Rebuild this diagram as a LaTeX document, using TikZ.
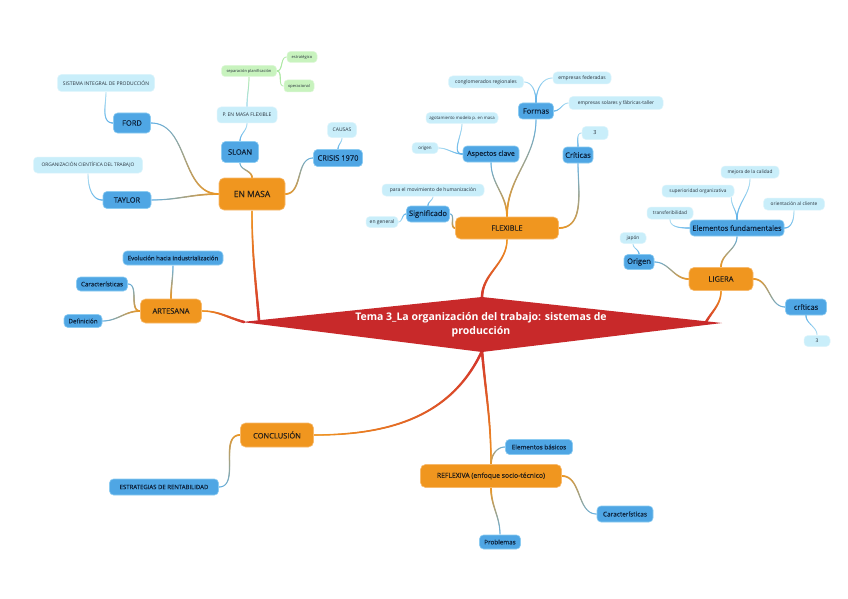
\documentclass[tikz,border=0pt]{standalone}
\usepackage{fontspec}
\setmainfont{Open Sans}
\newfontfamily\semib[FakeBold=0.6]{Open Sans}
\usetikzlibrary{decorations.markings}
\definecolor{cOr}{RGB}{240,150,31}
\definecolor{cOrB}{RGB}{247,186,110}
\definecolor{cBl}{RGB}{79,166,228}
\definecolor{cBlB}{RGB}{140,204,242}
\definecolor{cLb}{RGB}{201,238,250}
\definecolor{cLbB}{RGB}{222,245,252}
\definecolor{cGr}{RGB}{200,243,190}
\definecolor{cGrB}{RGB}{222,248,216}
\definecolor{cRed}{RGB}{200,41,42}
\definecolor{cRedL}{RGB}{212,52,44}
\definecolor{cOrL}{RGB}{240,150,31}
\definecolor{cBlL}{RGB}{90,175,232}
\definecolor{cLbL}{RGB}{168,221,243}
\definecolor{cGrL}{RGB}{170,232,160}
\definecolor{cTxt}{RGB}{40,32,24}
\definecolor{cNavy}{RGB}{14,36,62}
\definecolor{cLeafT}{RGB}{40,50,60}
\newcommand\fsz[1]{\fontsize{#1}{#1}\selectfont}
\pgfdeclarelayer{bg}
\pgfdeclarelayer{paper}
\pgfsetlayers{paper,bg,main}
\tikzset{
  grad/.style n args={4}{decorate, decoration={markings,
     mark=between positions 0 and 1 step 0.5pt with {%
       \pgfmathsetmacro\gfrac{\pgfkeysvalueof{/pgf/decoration/mark info/distance from start}/\pgfdecoratedpathlength}%
       \pgfmathtruncatemacro\gp{100*\gfrac}%
       \pgfmathsetmacro\gr{#3+(#4-#3)*\gfrac}%
       \fill[#2!\gp!#1] (0,0) circle (\gr pt);
     }}},
  g0/.style 2 args={grad={#1}{#2}{1.35}{0.75}},
  g1/.style 2 args={grad={#1}{#2}{0.95}{0.55}},
  g2/.style 2 args={grad={#1}{#2}{0.65}{0.45}},
  wh/.style 2 args={minimum width=#1pt, minimum height=#2pt},
  orng/.style={fill=cOr, draw=cOrB, line width=0.6pt, rounded corners=5pt, text=cTxt, inner sep=0pt, execute at begin node=\semib},
  blu/.style={fill=cBl, draw=cBlB, line width=0.6pt, rounded corners=4pt, text=cNavy, inner sep=0pt, execute at begin node=\semib},
  leaf/.style={fill=cLb, draw=cLbB, line width=0.5pt, rounded corners=4pt, text=cLeafT, inner sep=0pt, font=\fsz{5}},
  grn/.style={fill=cGr, draw=cGrB, line width=0.5pt, rounded corners=3.5pt, text=cLeafT, inner sep=0pt, font=\fsz{4}},
}
\begin{document}
\begin{tikzpicture}[x=1pt,y=1pt]
\begin{pgfonlayer}{paper}
\fill[white] (0,0) rectangle (848,-599);
\end{pgfonlayer}
\useasboundingbox (0,0) rectangle (848,-599);

% central diamond
\fill[cRed] (242,-322) -- (482,-297) -- (722,-323) -- (482,-352) -- cycle;
\node[font=\fontsize{10.5}{14}\selectfont\bfseries, text=white, align=center] (title) at (481,-325) {Tema 3\_La organización del trabajo: sistemas de\\producción};
\coordinate (dEM) at (259,-320);
\coordinate (dL) at (244,-322);
\coordinate (dT) at (482,-298);
\coordinate (dLG) at (706,-322);
\coordinate (dB) at (482,-351);

% orange
\node[orng, wh={66}{32}, font=\fsz{8.5}] (enmasa) at (252,-194) {EN MASA};
\node[orng, wh={103}{22}, font=\fsz{7.5}] (flexible) at (507,-228) {FLEXIBLE};
\node[orng, wh={64}{23}, font=\fsz{7.5}] (ligera) at (721,-279) {LIGERA};
\node[orng, wh={61}{24}, font=\fsz{7.5}] (artesana) at (171,-311) {ARTESANA};
\node[orng, wh={73}{24}, font=\fsz{7.5}] (conclusion) at (277,-435) {CONCLUSIÓN};
\node[orng, wh={141}{23}, font=\fsz{6.8}] (reflexiva) at (491,-476) {REFLEXIVA (enfoque socio-técnico)};

% blue
\node[blu, wh={37}{20}, font=\fsz{7.5}] (ford) at (132,-123) {FORD};
\node[blu, wh={48}{17}, font=\fsz{7.5}] (taylor) at (127,-200) {TAYLOR};
\node[blu, wh={37}{21}, font=\fsz{7.5}] (sloan) at (240,-152) {SLOAN};
\node[blu, wh={49}{17}, font=\fsz{7.5}] (crisis) at (338,-158) {CRISIS 1970};
\node[blu, wh={35}{16}, font=\fsz{7.5}] (formas) at (536,-111) {Formas};
\node[blu, wh={56}{16}, font=\fsz{7}] (aspectos) at (491,-154) {Aspectos clave};
\node[blu, wh={30}{16}, font=\fsz{7.5}] (criticas) at (578,-155) {Críticas};
\node[blu, wh={43}{16}, font=\fsz{7.5}] (significado) at (428,-214) {Significado};
\node[blu, wh={94}{16}, font=\fsz{7.3}] (ef) at (737,-228) {Elementos fundamentales};
\node[blu, wh={30}{15}, font=\fsz{7.5}] (origen) at (639,-262) {Origen};
\node[blu, wh={41}{16}, font=\fsz{7.5}] (criticasR) at (806,-307) {críticas};
\node[blu, wh={100}{14}, font=\fsz{6}] (evol) at (173,-258) {Evolución hacia industrialización};
\node[blu, wh={51}{14}, font=\fsz{6.2}] (caractL) at (102,-284) {Características};
\node[blu, wh={38}{13}, font=\fsz{6.2}] (definicion) at (83,-321) {Definición};
\node[blu, wh={109}{16}, font=\fsz{6}] (estr) at (164,-487) {ESTRATEGIAS DE RENTABILIDAD};
\node[blu, wh={67}{15}, font=\fsz{6.3}] (eb) at (539,-447) {Elementos básicos};
\node[blu, wh={41}{14}, font=\fsz{6.3}] (problemas) at (500,-542) {Problemas};
\node[blu, wh={56}{16}, font=\fsz{6.5}] (caractR) at (625,-514) {Características};

% light blue leaves
\node[leaf, wh={97}{17}] (sistema) at (106,-83) {SISTEMA INTEGRAL DE PRODUCCIÓN};
\node[leaf, wh={109}{16}, font=\fsz{4.8}] (org) at (88,-165) {ORGANIZACIÓN CIENTÍFICA DEL TRABAJO};
\node[leaf, wh={60}{16}] (pemf) at (247,-115) {P. EN MASA FLEXIBLE};
\node[leaf, wh={29}{15}] (causas) at (342,-130) {CAUSAS};
\node[leaf, wh={75}{12}] (conglomerados) at (486,-82) {conglomerados regionales};
\node[leaf, wh={58}{12}] (federadas) at (582,-78) {empresas federadas};
\node[leaf, wh={94}{13}, font=\fsz{4.9}] (solares) at (616,-103) {empresas solares y fábricas-taller};
\node[leaf, wh={72}{11}, font=\fsz{4.3}] (agotamiento) at (462,-118) {agotamiento modelo p. en masa};
\node[leaf, wh={26}{11}, font=\fsz{4.5}] (origenF) at (425,-148) {origen};
\node[leaf, wh={26}{13}, font=\fsz{5.5}] (tres1) at (595,-133) {3};
\node[leaf, wh={102}{12}] (para) at (433,-190) {para el movimiento de humanización};
\node[leaf, wh={32}{11}] (engeneral) at (382,-222) {en general};
\node[leaf, wh={58}{12}, font=\fsz{4.8}] (mejora) at (750,-172) {mejora de la calidad};
\node[leaf, wh={72}{12}, font=\fsz{4.8}] (superioridad) at (698,-191) {superioridad organizativa};
\node[leaf, wh={46}{12}, font=\fsz{4.8}] (transf) at (670,-213) {transferibilidad};
\node[leaf, wh={61}{12}, font=\fsz{4.8}] (orientacion) at (794,-204) {orientación al cliente};
\node[leaf, wh={26}{11}, font=\fsz{4.8}] (japon) at (633,-238) {japón};
\node[leaf, wh={26}{11}, font=\fsz{5}] (tresR) at (817,-341) {3};

% green
\node[grn, wh={55}{11}] (separacion) at (249,-71) {separación planificación};
\node[grn, wh={30}{11}] (estrategico) at (302,-57) {estratégico};
\node[grn, wh={30}{12}] (operacional) at (299,-86) {operacional};

\begin{pgfonlayer}{bg}
% central connectors
\path[g0={cRedL}{cOrL}] (dEM) to[out=95,in=-90] (enmasa.south);
\path[g0={cRedL}{cOrL}] (dL) to[out=165,in=0] (artesana.east);
\path[g0={cRedL}{cOrL}] (dT) to[out=90,in=-90] (flexible.south);
\path[g0={cRedL}{cOrL}] (dLG) to[out=60,in=-90] (ligera.south);
\path[g0={cRedL}{cOrL}] (dB) to[out=-115,in=0] (conclusion.east);
\path[g0={cRedL}{cOrL}] (dB) to[out=-85,in=90] (reflexiva.north);
% orange -> blue
\path[g1={cOrL}{cBlL}] (enmasa.west) to[out=180,in=0] (ford.east);
\path[g1={cOrL}{cBlL}] (enmasa.west) to[out=180,in=0] (taylor.east);
\path[g1={cOrL}{cBlL}] (enmasa.north) to[out=90,in=-90] (sloan.south);
\path[g1={cOrL}{cBlL}] (enmasa.east) to[out=0,in=180] (crisis.west);
\path[g1={cOrL}{cBlL}] (flexible.west) to[out=180,in=0] (significado.east);
\path[g1={cOrL}{cBlL}] (flexible.north) to[out=90,in=-90] (aspectos.south);
\path[g1={cOrL}{cBlL}] (flexible.north) to[out=90,in=-90] (formas.south);
\path[g1={cOrL}{cBlL}] (flexible.east) to[out=0,in=-90] (criticas.south);
\path[g1={cOrL}{cBlL}] (ligera.north) to[out=90,in=-90] (ef.south);
\path[g1={cOrL}{cBlL}] (ligera.west) to[out=180,in=0] (origen.east);
\path[g1={cOrL}{cBlL}] (ligera.east) to[out=0,in=180] (criticasR.west);
\path[g1={cOrL}{cBlL}] (artesana.north) to[out=90,in=-90] (evol.south);
\path[g1={cOrL}{cBlL}] (artesana.west) to[out=180,in=0] (caractL.east);
\path[g1={cOrL}{cBlL}] (artesana.west) to[out=180,in=0] (definicion.east);
\path[g1={cOrL}{cBlL}] (conclusion.west) to[out=180,in=0] (estr.east);
\path[g1={cOrL}{cBlL}] (reflexiva.north) to[out=90,in=180] (eb.west);
\path[g1={cOrL}{cBlL}] (reflexiva.east) to[out=0,in=180] (caractR.west);
\path[g1={cOrL}{cBlL}] (reflexiva.south) to[out=-90,in=90] (problemas.north);
% blue -> leaves
\path[g2={cBlL}{cLbL}] (ford.west) to[out=180,in=-90] (sistema.south);
\path[g2={cBlL}{cLbL}] (taylor.west) to[out=180,in=-90] (org.south);
\path[g2={cBlL}{cLbL}] (sloan.north) to[out=90,in=-90] (pemf.south);
\path[g2={cBlL}{cLbL}] (crisis.north) to[out=90,in=-90] (causas.south);
\path[g2={cBlL}{cLbL}] (significado.north) to[out=90,in=-90] (para.south);
\path[g2={cBlL}{cLbL}] (significado.west) to[out=180,in=0] (engeneral.east);
\path[g2={cBlL}{cLbL}] (aspectos.west) to[out=180,in=-90] (agotamiento.south);
\path[g2={cBlL}{cLbL}] (aspectos.west) to[out=180,in=0] (origenF.east);
\path[g2={cBlL}{cLbL}] (formas.north) to[out=90,in=0] (conglomerados.east);
\path[g2={cBlL}{cLbL}] (formas.north) to[out=90,in=180] (federadas.west);
\path[g2={cBlL}{cLbL}] (formas.east) to[out=0,in=180] (solares.west);
\path[g2={cBlL}{cLbL}] (criticas.north) to[out=90,in=180] (tres1.west);
\path[g2={cBlL}{cLbL}] (ef.west) to[out=180,in=-90] (transf.south);
\path[g2={cBlL}{cLbL}] (ef.north) to[out=90,in=-90] ([xshift=-3pt]superioridad.south east);
\path[g2={cBlL}{cLbL}] (ef.north) to[out=90,in=-90] (mejora.south);
\path[g2={cBlL}{cLbL}] (ef.east) to[out=0,in=-90] (orientacion.south);
\path[g2={cBlL}{cLbL}] (origen.north) to[out=90,in=-90] (japon.south);
\path[g2={cBlL}{cLbL}] (criticasR.south) to[out=-90,in=90] (tresR.north);
% leaf -> green
\path[g2={cLbL}{cGrL}] (pemf.north) to[out=90,in=-90] (separacion.south);
\path[g2={cGrL}{cGrL}] (separacion.east) to[out=0,in=180] (estrategico.west);
\path[g2={cGrL}{cGrL}] (separacion.east) to[out=0,in=180] (operacional.west);
\end{pgfonlayer}
\end{tikzpicture}
\end{document}
